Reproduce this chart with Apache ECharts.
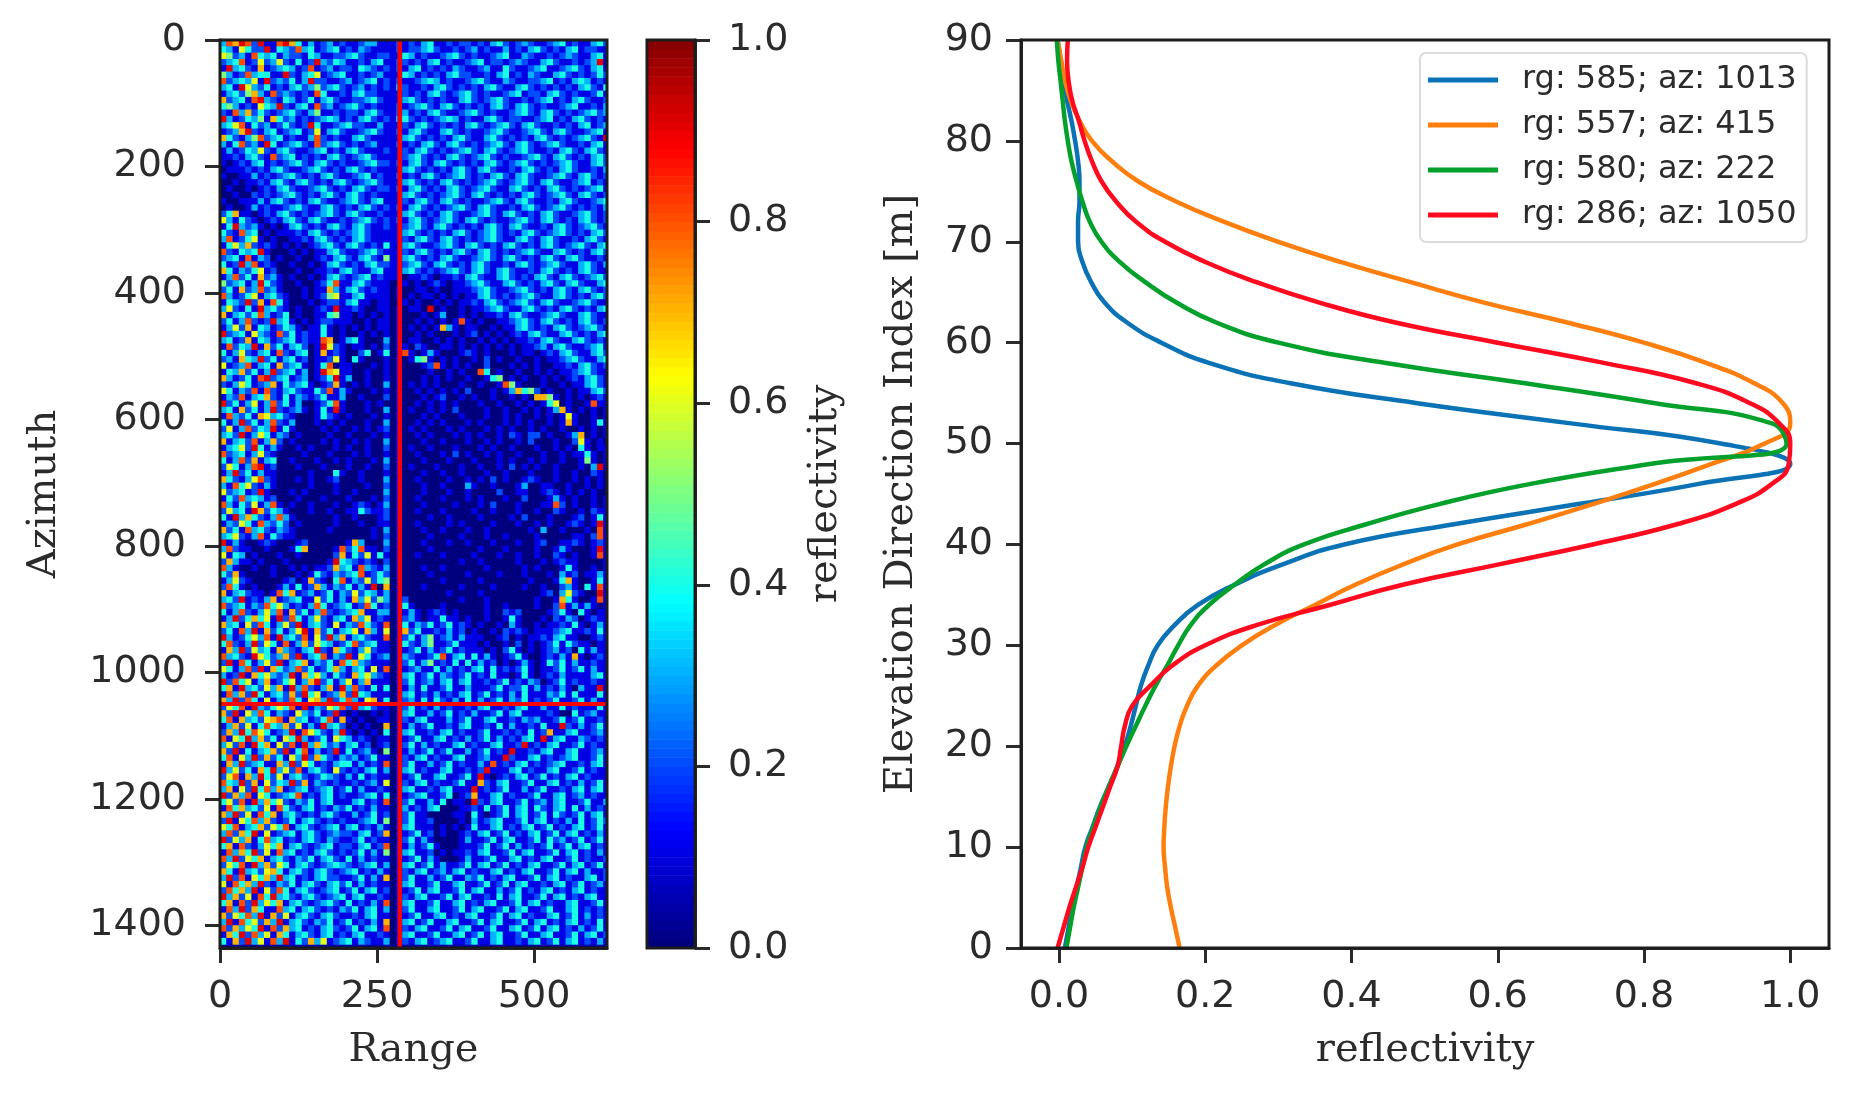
<!DOCTYPE html>
<html>
<head>
<meta charset="utf-8">
<style>
    html, body { margin: 0; background: #fff; }
    #chart { width: 1858px; height: 1094px; filter: blur(0.7px); }
</style>
<script src="https://cdn.jsdelivr.net/npm/echarts@6/dist/echarts.min.js"></script>
</head>
<body>
<div id="chart"></div>
<script>
    // tick labels
    var rangeTicks = [0, 250, 500];
    var azimuthTicks = [0, 200, 400, 600, 800, 1000, 1200, 1400];
    var colorbarTicks = [0, 0.2, 0.4, 0.6, 0.8, 1];
    var reflectivityTicks = [0, 0.2, 0.4, 0.6, 0.8, 1];
    var elevationTicks = [0, 10, 20, 30, 40, 50, 60, 70, 80, 90];

    // profiles, every 2 m
    var elevation = [0, 2, 4, 6, 8, 10, 12, 14, 16, 18, 20, 22, 24, 26, 28, 30, 32, 34, 36, 38, 40, 42, 44, 46, 48, 50, 52, 54, 56, 58, 60, 62, 64, 66, 68, 70, 72, 74, 76, 78, 80, 82, 84, 86, 88, 90];
    var blueRefl = [.008, .013, .018, .024, .03, .036, .046, .056, .068, .08, .09, .098, .105, .112, .122, .135, .158, .19, .24, .305, .39, .54, .71, .875, 1, .905, .7, .49, .315, .205, .14, .093, .062, .044, .032, .026, .026, .028, .028, .026, .022, .017, .011, .006, .002, -.002];
    var orangeRefl = [.165, .159, .153, .148, .145, .143, .144, .146, .149, .153, .158, .165, .175, .19, .215, .25, .295, .35, .405, .47, .545, .64, .73, .815, .893, .965, 1, .99, .95, .885, .8, .695, .58, .481, .385, .3, .225, .16, .108, .072, .045, .028, .016, .008, .003, -.002];
    var greenRefl = [.01, .015, .02, .026, .032, .038, .047, .057, .068, .08, .092, .105, .118, .132, .148, .163, .18, .205, .24, .28, .335, .42, .52, .645, .81, .995, .975, .815, .635, .445, .3, .215, .16, .118, .083, .058, .042, .032, .024, .017, .012, .008, .005, .002, -.001, -.003];
    var redRefl = [-.002, .006, .014, .023, .032, .04, .05, .06, .07, .08, .085, .09, .1, .125, .155, .2, .27, .37, .47, .6, .73, .845, .925, .975, .998, 1, .985, .945, .87, .745, .6, .46, .355, .27, .2, .145, .105, .078, .058, .045, .035, .027, .018, .013, .011, .012];
    var profileNames = ['rg: 585; az: 1013', 'rg: 557; az: 415', 'rg: 580; az: 222', 'rg: 286; az: 1050'];

    // crosshair on the map
    var crossRange = 286;
    var crossAzimuth = 1050;

    // reflectivity map estimated by eye, one digit per 10x10 cell (digit = tenths)
    var cellSize = 10;
    var mapRows = [
        '38798291189741312312112331112121341121221213421232112341211342',
        '43164229143283412341213211112122342112123121131213421213412211',
        '65231843413221431122342112211431211234212112341132112123211341',
        '23481262362141293243112134112212134121123412212321134211212391',
        '19342171234312812312214321212134121213211231142112341123421341',
        '53128344119213461234112123111431212134221121341213211342121242',
        '82343619232413922112312341212112343121123421132112234121343121',
        '34196324121342352342123121213211213421212134211342121212134214',
        '13425731823212184112134221111212134212342121123412213421211241',
        '72341893214312413421122342111342121211342123421121234121342112',
        '45312164392134182312342121112123421342121213421342121123411213',
        '21837242123421351121221342112312134211234212112342134212123423',
        '93124351742312123431213421213421212343121134212211234121342121',
        '34681423124212941123422113111213421212134212342134211212134123',
        '12379213412341261342112342112134211342121123421123421342112341',
        '74213582341211382121134211111342121213421134212121342121234219',
        '31482319412342182342121231112121342134212123421342123421121341',
        '13124362134211234121342111211213421212342134212342112134213421',
        '11213421823412121342123421111234212134212342121123421342121342',
        '10121341212342134212112342212134213421212134212342121234211342',
        '01112121342112342121342121111342121213421342112134212134211213',
        '10011312123421213421123412112121342123421213421342112342134212',
        '00101121342134212134212342111342121342121234212342134211234121',
        '01001012134211234212134212212134212134212342113421213421212341',
        '00100212123421213421342121111342121234213421212134212342134212',
        '10011131342121342112342134111213421342121123421342112134211234',
        '01001312112342113421213421212134212123421342112134212342121213',
        '24711012134212123421342112111342121342112342134212134211234212',
        '63142101213421342112123421212134212342134212112342134212134212',
        '14932310101342121342134211211234213421212134213421121342123421',
        '42183401011121342121234211111342121213421234212134212342121342',
        '38124610100112134212134211111213421342121234211342134211213421',
        '14637212101010123421342121411342112342134212134212134212342134',
        '82143491000101011342112342111213421213421342121234211342121342',
        '23418132010010012134213421511342121342112342134212134213421121',
        '41293812100100101342121342211234213421213421121342123421134213',
        '74132461200010011213421134111342121234213421342112134212134211',
        '13824172310100101342123412111011210112134211342121342134212342',
        '52341394210010012481134211100101012101123421134212134213421134',
        '24172382310001011731342121101001101001112342112342121342134212',
        '83124613421001012561134111101010110101011342121234211342121342',
        '14329271841000101221341101100101001010112134212342134211234211',
        '36214193421010012191121001101011090100101123421134212134212134',
        '71342483124010011451101010101000101300101011213421123421134211',
        '24138212934101012211100101101001010101810100112342134212134212',
        '13627143124310114101010101101010101731011001011342121342123421',
        '92341632182412114101001010101001010001012010101213421134212134',
        '34127143123412118701341000301011001010100101010112134211342121',
        '18243917241342019621011010201102100110101010101011231342112341',
        '41362134182134017121002401401810131000121010001011012134211342',
        '23174392413412011261041000101014510101001020100100101123421134',
        '61238134172341014801100010101000128101010020001010100112134212',
        '14372413923413019761100100101000010010100840100100101011234211',
        '73124189234123012491300100101000101010010014501010010101213421',
        '21364123714234101271010100301010101000100100185100010010113421',
        '64132818213421142813100010101001010101020001013745201001011342',
        '13281347214132124113001000201000101200101001001010775101010121',
        '92413613824130012481000101001001010101000100100101014601001811',
        '34172413921231014191000100301010010102000010010010101371010101',
        '18324176342100014210100010101000101000100010010100101016100101',
        '41392413821300010101000100301001010100010100010101001017100141',
        '26138243914100001010010101201010100010100010101001010010010101',
        '34291364132010000100100010101001010001010100102102201001370101',
        '71342813720100001010010100301000100100010010100102000100261010',
        '13462941310010100010100100201010010001000101001000100101041011',
        '82341362100001000100010100101001000102010010100100010010114101',
        '41382713400100010010100010301000100010001000101001010010015101',
        '26413891200010001000100100201010001000100100102010100100010391',
        '13924131100000100041001000101000100100100010010001000100100210',
        '74213682100010100120001000301001000010010102010012100100101010',
        '31846213100000100010000100201000100100031001000130011001001010',
        '62341291000101000010010000301000100010010000200110012101010100',
        '14283431200010001000100010201001000100010100010020001310100101',
        '83142613810100100010012101301000100001000102000100011820100101',
        '26341972431000100100114211201001000100001001000100100210010211',
        '41937421383100000010010001201000010010000100001020001000120141',
        '13264183242010000010001001101001000010100001000100101001210191',
        '72418342132100000100000010301000100100010010000001030010001081',
        '34621381421100000000000010201000010000100010010000100000110281',
        '91310012100012000000173000301000100010010001000100120011210121',
        '38211001000147000018248110201000010000000100010000100131000191',
        '61430100010010000027142614101001000100001000100100100210100181',
        '27311010001000000194321210201000000000100100000100010121100001',
        '83100100100101011273418321301000100100000010000010100014100101',
        '42710000100010142132348124201000010000010000100010001031201131',
        '13621000001201721048132624501000000100000100000001000147100141',
        '28410100013141273132413190701000100000100001000010010023104181',
        '71342110184712312413262431301000000010000100000000012036210091',
        '34291213712341162413173625301200000000100010000000100174100181',
        '82341328463121384123412841201410000100000010010000100281313101',
        '41382136381724138212347113301131012101000010021200001241041011',
        '13924746192841362134173612101231011411010010014100010213201211',
        '73416284136291342161328421801413241241210100103100101121410131',
        '24183917241369172413461731601724112131201001021210111234112141',
        '93124638193428162937134211801241351231311100120101121341100121',
        '48213926418137264312482341101421351124111010010201012414211011',
        '17392634173213492174213621101124131241211101024101012312041311',
        '83421964237291348132916412301321124813414131012410012131710121',
        '29184136291347132418473211101241351214141312010131014241311211',
        '64138291742382412473134161801123114131213414121241011241241311',
        '31291746323917463142174632101341241321241214110141012131111341',
        '92846137124613792413613711101241231341341121241213201241211211',
        '47193426371938213719382141401131411241131112412241312131031191',
        '18372941342729461237294311101341213121341241213141113241411141',
        '73928416132841673924831671401231414213141312413241212411241311',
        '26481932464819132648293421101241213121121341121341131141211141',
        '72916384132163241291010010101341131241213112413411112100412311',
        '48173426781734124817101001101213411131241134112132311241241121',
        '13726148437261319342010100701131241121341121413112141192131241',
        '27394864123918642139101010401341121341211241121214127113411231',
        '81649372416493124164312101101124113412131241312134191341132121',
        '36281947162819374231341201201241312113412113411291213411241211',
        '72914134729148131291412310501131241241131241219112134113411231',
        '48163927241639274213231241101213412113411231192113412123411241',
        '17392341173926412134413121801241131241211318121341212341121341',
        '93624174936281342162121341301341211341121291113412113411241211',
        '26817394261342124321314121101124113411241910121341241213412111',
        '84392716243927132121121231601213412112411721341124113412131241',
        '37162948371234123412413112101341121341119121241131241121341341',
        '92738164123481213412112341401123411240127113412112411341231211',
        '46281937462132413411134121801241131401109213411241231341124113',
        '18473426184213412132412131101312134000112141241341421341413121',
        '73926184713421213421131241201241100001104101241341241421241341',
        '29164837212413421212112341501241120000103123411241341213141242',
        '64813472648134212341341213101341110101014113412134124121341241',
        '38274916123413421232213412701124120100121341241213412413412131',
        '92637148341213421321124121101241310000131124134112414231241241',
        '47182136471342123412213412801131241000111241241312124124134121',
        '18374926183412134212124131501341120101121341124134112413412131',
        '83926471342132413421413121101124131000131124113412134112412112',
        '26481937264134212343212341301341241311241341241213411241341241',
        '74193426741342134212341213101213412313412113412134112413413112',
        '39281647393412134221124131701241131241132412134112413412113412',
        '61847392132413421342413121101341124113411241241341121341241231',
        '28473916284134212341241341201124134112413411312412134121341211',
        '93726184934213421234134112101213411241341121413411241341213411',
        '47182936471342123421412131801341124113412134112413412113411241',
        '18392741183413421213241341301241134112413411241341124113412121',
        '72648391726134213421121341101124113412134112413412113412413121',
        '39184627391342132412412131701341241134112413411241341213412141',
        '82736491827341213421241341801213411241341124113412413412131241',
        '17492836174134213412134112101341124113412413411241134112413412',
        '41729361839142736123413211301213412341124113411213412413412131'
    ];
    var colorbarLevels = [];
    for (var l = 0; l < 100; l++) { colorbarLevels.push(l / 100); }

    var jetColors = ['#00007f', '#0000ff', '#007fff', '#00ffff', '#7fff7f', '#ffff00', '#ff7f00', '#ff0000', '#7f0000'];

    var mapCells = [];
    mapRows.forEach(function (row, r) {
        for (var c = 0; c < row.length; c++) {
            mapCells.push([c * cellSize, r * cellSize, +row.charAt(c) / 10]);
        }
    });

    function zip(xs) {
        return xs.map(function (x, i) { return [x, elevation[i]]; });
    }

    // draws data cells through the axes; dx, dy = size of a cell in data units
    function cellRenderer(dx, dy) {
        return function (params, api) {
            var a = api.coord([api.value(0), api.value(1)]);
            var b = api.coord([api.value(0) + dx, api.value(1) + dy]);
            return {
                type: 'rect',
                shape: {
                    x: Math.min(a[0], b[0]),
                    y: Math.min(a[1], b[1]),
                    width: Math.abs(b[0] - a[0]) + 0.5,
                    height: Math.abs(b[1] - a[1]) + 0.5
                },
                style: { fill: api.visual('color') }
            };
        };
    }

    var tickColor = '#2b2b2b';
    var tickFont = { color: '#2b2b2b', fontFamily: 'DejaVu Sans', fontSize: 38 };
    var nameFont = { color: '#2b2b2b', fontFamily: 'DejaVu Serif', fontSize: 40 };

    function axis(opt) {
        var fmt = opt.digits ? function (v) { return (+v).toFixed(opt.digits); } : function (v) { return '' + v; };
        return {
            type: 'value',
            gridIndex: opt.grid,
            position: opt.position,
            min: opt.min,
            max: opt.max,
            inverse: !!opt.inverse,
            name: opt.name || '',
            nameLocation: 'middle',
            nameGap: opt.nameGap,
            nameRotate: opt.nameRotate,
            nameTextStyle: nameFont,
            splitLine: { show: false },
            axisLine: { show: !!opt.ticks, onZero: false, lineStyle: { color: tickColor, width: 3 } },
            axisTick: { show: !!opt.ticks, length: 15, customValues: opt.ticks, lineStyle: { color: tickColor, width: 3 } },
            axisLabel: { show: !!opt.ticks, margin: opt.margin, customValues: opt.ticks, formatter: fmt, color: tickFont.color, fontFamily: tickFont.fontFamily, fontSize: tickFont.fontSize }
        };
    }

    var grids = [
        { left: 220, top: 40, width: 387, height: 908 },
        { left: 647, top: 40, width: 48, height: 908 },
        { left: 1021, top: 40, width: 808, height: 908 }
    ];

    var chart = echarts.init(document.getElementById('chart'));
    chart.setOption({
        animation: false,
        backgroundColor: '#fff',
        grid: [
            { left: 220, top: 40, width: 387, height: 908, show: true, backgroundColor: '#0000a0', borderWidth: 0 },
            { left: 647, top: 40, width: 48, height: 908 },
            { left: 1021, top: 40, width: 808, height: 908 }
        ],
        xAxis: [
            axis({ grid: 0, position: 'bottom', min: 0, max: 616, ticks: rangeTicks, margin: 30, name: 'Range', nameGap: 83 }),
            axis({ grid: 1, position: 'bottom', min: 0, max: 1 }),
            axis({ grid: 2, position: 'bottom', min: -0.052, max: 1.053, ticks: reflectivityTicks, digits: 1, margin: 30, name: 'reflectivity', nameGap: 83 })
        ],
        yAxis: [
            axis({ grid: 0, position: 'left', min: 0, max: 1436, inverse: true, ticks: azimuthTicks, margin: 34, name: 'Azimuth', nameGap: 155, nameRotate: 90 }),
            axis({ grid: 1, position: 'right', min: 0, max: 1, ticks: colorbarTicks, digits: 1, margin: 33, name: 'reflectivity', nameGap: 111, nameRotate: 90 }),
            axis({ grid: 2, position: 'left', min: 0, max: 90, ticks: elevationTicks, margin: 28, name: 'Elevation Direction Index [m]', nameGap: 99, nameRotate: 90 })
        ],
        visualMap: {
            show: false,
            type: 'continuous',
            min: 0,
            max: 1,
            dimension: 2,
            seriesIndex: [0, 1],
            inRange: { color: jetColors }
        },
        legend: {
            left: 1420,
            top: 53,
            orient: 'vertical',
            icon: 'rect',
            itemWidth: 70,
            itemHeight: 5,
            itemGap: 13,
            padding: [11, 10, 11, 8],
            backgroundColor: '#fff',
            borderColor: '#dcdcdc',
            borderWidth: 2,
            borderRadius: 6,
            textStyle: { color: '#2b2b2b', fontFamily: 'DejaVu Sans', fontSize: 32, padding: [0, 0, 0, 19] },
            data: profileNames
        },
        series: [
            {
                type: 'custom',
                xAxisIndex: 0,
                yAxisIndex: 0,
                clip: true,
                progressive: 0,
                silent: true,
                renderItem: cellRenderer(cellSize, cellSize),
                data: mapCells
            },
            {
                type: 'custom',
                xAxisIndex: 1,
                yAxisIndex: 1,
                clip: true,
                silent: true,
                renderItem: cellRenderer(1, 0.01),
                data: colorbarLevels.map(function (v) { return [0, v, v]; })
            },
            {
                type: 'line',
                xAxisIndex: 0,
                yAxisIndex: 0,
                symbol: 'none',
                silent: true,
                lineStyle: { color: '#ff0000', width: 4.5 },
                data: [[crossRange, 0], [crossRange, 1436]]
            },
            {
                type: 'line',
                xAxisIndex: 0,
                yAxisIndex: 0,
                symbol: 'none',
                silent: true,
                lineStyle: { color: '#ff0000', width: 4 },
                data: [[0, crossAzimuth], [616, crossAzimuth]]
            },
            profile(profileNames[0], blueRefl, '#0a72b5'),
            profile(profileNames[1], orangeRefl, '#ff7f0e'),
            profile(profileNames[2], greenRefl, '#04a02c'),
            profile(profileNames[3], redRefl, '#ff0a1e')
        ],
        graphic: grids.map(function (g) {
            return {
                type: 'rect',
                silent: true,
                z: 50,
                shape: { x: g.left, y: g.top, width: g.width, height: g.height },
                style: { fill: 'none', stroke: '#1c1c1c', lineWidth: 3 }
            };
        })
    });

    function profile(name, values, color) {
        return {
            type: 'line',
            name: name,
            xAxisIndex: 2,
            yAxisIndex: 2,
            symbol: 'none',
            smooth: 0.5,
            itemStyle: { color: color },
            lineStyle: { color: color, width: 4.5 },
            data: zip(values)
        };
    }

    window.onresize = function () {
        chart.resize();
    };
</script>
</body>
</html>
